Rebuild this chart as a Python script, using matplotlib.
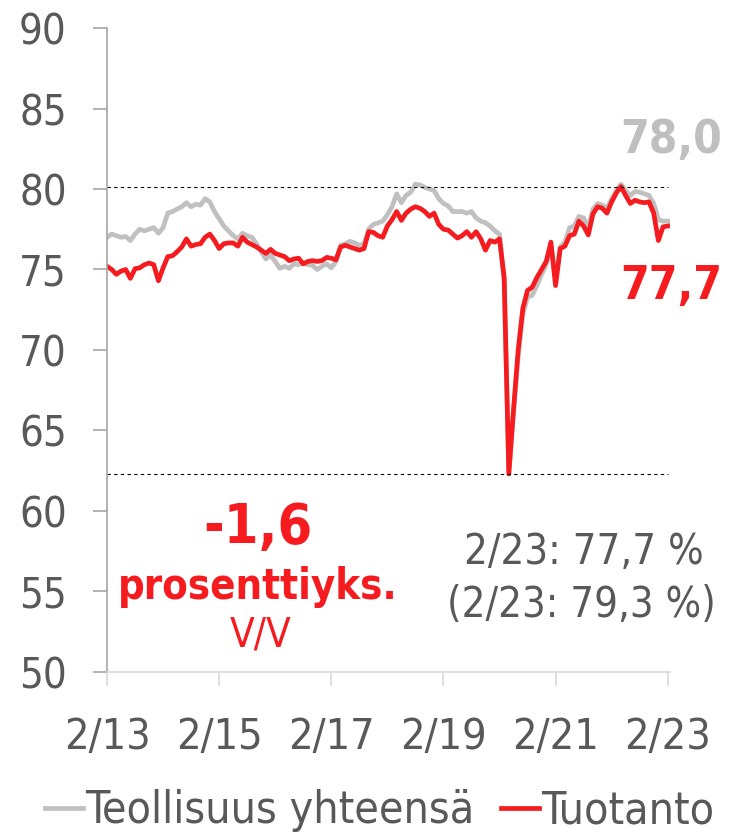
import numpy as np
import matplotlib
matplotlib.use("Agg")
import matplotlib.pyplot as plt
from matplotlib.lines import Line2D

# ── Data: monthly values 2/2013 … 2/2023 ─────────────────────────────────────
teollisuus = [
    77.0, 77.2, 77.1, 77.0, 77.05, 76.8, 77.2, 77.5, 77.4, 77.5, 77.6, 77.25,
    77.6, 78.5, 78.6, 78.75, 78.9, 79.15, 78.9, 79.05, 79.0, 79.4, 79.2, 78.6,
    78.15, 77.7, 77.4, 77.1, 76.9, 77.25, 77.1, 77.0, 76.6, 76.1, 75.65, 75.9,
    75.5, 75.07, 75.2, 75.07, 75.35, 75.3, 75.4, 75.3, 75.25, 75.0, 75.2, 75.35,
    75.1, 75.5, 76.5, 76.6, 76.75, 76.65, 76.5, 76.6, 77.5, 77.8, 77.9, 78.0,
    78.4, 78.9, 79.7, 79.15, 79.6, 79.8, 80.3, 80.25, 80.1, 80.0, 79.9, 79.4,
    79.1, 78.95, 78.6, 78.6, 78.6, 78.5, 78.6, 78.2, 78.0, 77.9, 77.7, 77.4,
    77.2, 74.3, 62.5, 66.0, 69.6, 72.2, 73.3, 73.4, 74.0, 74.7, 75.3, 76.5,
    74.5, 76.4, 76.7, 77.6, 77.7, 78.3, 78.2, 77.6, 78.75, 79.1, 79.0, 78.8,
    79.4, 79.9, 80.3, 79.9, 79.6, 79.85, 79.8, 79.7, 79.6, 79.1, 78.1, 78.0,
    78.0,
]
tuotanto = [
    75.2, 75.0, 74.7, 74.9, 75.0, 74.45, 75.05, 75.1, 75.3, 75.4, 75.3, 74.3,
    75.1, 75.8, 75.85, 76.1, 76.4, 76.9, 76.45, 76.55, 76.6, 77.0, 77.2, 76.8,
    76.3, 76.6, 76.65, 76.65, 76.45, 77.0, 76.7, 76.55, 76.4, 76.2, 76.0, 76.25,
    76.0, 75.9, 75.8, 75.55, 75.65, 75.7, 75.35, 75.5, 75.55, 75.5, 75.55, 75.75,
    75.7, 75.6, 76.4, 76.5, 76.4, 76.3, 76.2, 76.3, 77.35, 77.3, 77.1, 77.0,
    77.7, 78.1, 78.6, 78.05, 78.5, 78.75, 78.9, 78.8, 78.6, 78.3, 78.5, 77.8,
    77.5, 77.45, 77.2, 76.95, 77.1, 77.35, 77.0, 77.35, 76.9, 76.2, 76.8, 76.7,
    76.9, 74.5, 62.3, 66.3, 70.0, 72.6, 73.7, 73.9, 74.5, 75.0, 75.5, 76.7,
    74.0, 76.3, 76.45, 77.1, 77.2, 78.0, 77.7, 77.15, 78.45, 78.9, 78.8, 78.5,
    79.2, 79.75, 80.15, 79.6, 79.1, 79.3, 79.2, 79.15, 79.2, 78.5, 76.8, 77.65,
    77.7,
]
tick_labels = ["2/13", "2/15", "2/17", "2/19", "2/21", "2/23"]
tick_pos = [0, 24, 48, 72, 96, 120]
y_ticks = [50, 55, 60, 65, 70, 75, 80, 85, 90]

# ── Styles ───────────────────────────────────────────────────────────────────
RED = "#f51b1e"
GREY_LINE = "#c0c0c0"
TEXT = "#595959"
W, H = 731, 836

plt.rcParams["font.family"] = ["DejaVu Sans"]
plt.rcParams["font.stretch"] = "condensed"

fig = plt.figure(figsize=(W / 100, H / 100), dpi=100)
ax = fig.add_axes([0.1464, 0.1962, 0.7702, 0.7703])

x = np.arange(len(tuotanto))
ax.plot(x, teollisuus, color=GREY_LINE, lw=3.4, solid_joinstyle="round")
ax.plot(x, tuotanto, color=RED, lw=3.4, solid_joinstyle="round")

# max / min reference lines
ax.hlines([max(tuotanto), min(tuotanto)], 0, x[-1],
          colors="black", linestyles=(0, (3, 3)), linewidth=0.8)

ax.set_xlim(0, 120.5)
ax.set_ylim(50, 90)
ax.set_yticks(y_ticks)
ax.set_xticks(tick_pos)
ax.set_xticklabels(tick_labels)

ax.tick_params(axis="y", direction="out", length=10, width=1.2,
               color="#a6a6a6", labelsize=30, labelcolor=TEXT, pad=19)
ax.tick_params(axis="x", direction="out", length=10, width=1.2,
               color="#d9d9d9", labelsize=31, labelcolor=TEXT, pad=22)

for side in ["top", "right"]:
    ax.spines[side].set_visible(False)
ax.spines["left"].set_color("#a6a6a6")
ax.spines["left"].set_linewidth(1.2)
ax.spines["bottom"].set_color("#d9d9d9")
ax.spines["bottom"].set_linewidth(1.2)


def ftext(px, py, s, **kw):
    fig.text(px / W, 1 - py / H, s, va="center", **kw)


# ── Annotations ──────────────────────────────────────────────────────────────
ftext(722, 140, "78,0", ha="right", color="#bfbfbf", fontsize=33, fontweight="bold")
ftext(722, 286, "77,7", ha="right", color=RED, fontsize=33, fontweight="bold")

ftext(258, 528, "-1,6", ha="center", color=RED, fontsize=40, fontweight="bold")
ftext(258, 587, "prosenttiyks.", ha="center", color=RED, fontsize=30, fontweight="bold")
ftext(261, 636, "V/V", ha="center", color=RED, fontsize=29)

ftext(584, 552, "2/23: 77,7 %", ha="center", color=TEXT, fontsize=30)
ftext(581, 605, "(2/23: 79,3 %)", ha="center", color=TEXT, fontsize=30)

# ── Legend ───────────────────────────────────────────────────────────────────
handles = [
    Line2D([], [], color=GREY_LINE, lw=3.4),
    Line2D([], [], color=RED, lw=3.4),
]
fig.legend(handles, ["Teollisuus yhteensä", "Tuotanto"], loc="center",
           bbox_to_anchor=(380 / W, 1 - 811 / H), ncol=2, frameon=False,
           fontsize=32, labelcolor=TEXT, handlelength=0.85,
           handletextpad=0.05, columnspacing=0.6, borderpad=0)

fig.savefig("out.png", dpi=100)
plt.close(fig)
